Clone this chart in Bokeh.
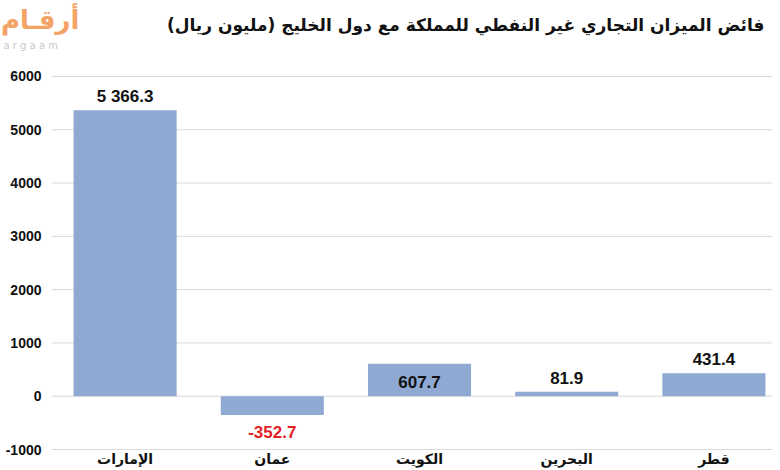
from bokeh.plotting import figure
from bokeh.models import ColumnDataSource, Range1d, Label
from bokeh.core.properties import value
from bokeh.embed import file_html
from bokeh.resources import INLINE

# ---- data ----
categories = ["الإمارات", "عمان", "الكويت", "البحرين", "قطر"]
surplus = [5366.3, -352.7, 607.7, 81.9, 431.4]
label_place = ["above", "below", "inside", "above", "above"]
y_ticks = [-1000, 0, 1000, 2000, 3000, 4000, 5000, 6000]
title_text = "فائض الميزان التجاري غير النفطي للمملكة مع دول الخليج (مليون ريال)"
logo_text = "أرقـام"
logo_sub = "a r g a a m"

# ---- layout helpers (pixels -> data) ----
ORG = 1                 # observed page position of the figure's corner
W, H = 772, 468
PX_X = 147.2            # pixels per category
PX_Y = 53.33 / 1000.0   # pixels per unit
x0 = -(52 - ORG) / PX_X
x1 = x0 + W / PX_X
y1 = 6000 + (77 - ORG) / PX_Y
y0 = -1000 - (ORG + H - 450) / PX_Y

def px_x(px):
    return x0 + (px - ORG) / PX_X

def px_y(py):
    return y1 - (py - ORG) / PX_Y

xs = [i + 0.5 for i in range(len(categories))]
labels = [f"{v:,.1f}".replace(",", " ") for v in surplus]
colors = ["#E31E24" if v < 0 else "#111111" for v in surplus]
offs = {"above": -14, "below": 17, "inside": 18}
yoff = [offs[p] for p in label_place]

src = ColumnDataSource(dict(x=xs, top=surplus, label=labels, color=colors, yoff=yoff))
cat_src = ColumnDataSource(dict(x=xs, y=[y_ticks[0]] * len(xs), name=categories))
tick_src = ColumnDataSource(dict(x0=[0] * len(y_ticks), x1=[x1] * len(y_ticks), y=y_ticks,
                                 label=[str(t) for t in y_ticks]))

p = figure(width=W, height=H, output_backend="svg", toolbar_location=None,
           x_range=Range1d(x0, x1), y_range=Range1d(y0, y1), min_border=0)
p.xaxis.visible = False
p.yaxis.visible = False
p.xgrid.visible = False
p.ygrid.visible = False
p.outline_line_color = None
p.background_fill_color = "white"

# grid lines
p.segment(x0="x0", y0="y", x1="x1", y1="y", source=tick_src, line_color="#D9D9D9", line_width=1)

# bars
p.vbar(x="x", top="top", bottom=0, width=0.7, source=src,
       fill_color="#8FA9D3", line_color=None)

# value labels
p.text(x="x", y="top", text="label", source=src, text_color="color",
       y_offset="yoff", text_align="center", text_baseline="middle",
       text_font=value("Liberation Sans"), text_font_size="17px", text_font_style="bold")

# y tick labels
p.text(x="x0", y="y", text="label", source=tick_src, x_offset=-10,
       text_align="right", text_baseline="middle", text_color="#111111",
       text_font=value("Liberation Sans"), text_font_size="14px", text_font_style="bold")

# category labels
p.text(x="x", y="y", text="name", source=cat_src, y_offset=9,
       text_align="center", text_baseline="middle", text_color="#111111",
       text_font=value("DejaVu Sans"), text_font_size="14px", text_font_style="bold")

# title
p.add_layout(Label(x=px_x(765), y=px_y(26), text=title_text, text_align="right",
                   text_baseline="middle", text_font="DejaVu Sans", text_font_size="17px",
                   text_font_style="bold", text_color="#111111"))

# logo
p.add_layout(Label(x=px_x(80), y=px_y(21), text=logo_text, text_align="right", text_baseline="middle",
                   text_font="DejaVu Sans", text_font_size="26px", text_font_style="bold",
                   text_color="#F4A366"))
p.add_layout(Label(x=px_x(4), y=px_y(46), text=logo_sub, text_align="left", text_baseline="middle",
                   text_font="DejaVu Sans", text_font_size="10px", text_color="#C8C8C8"))

open("out.html", "w").write(file_html(p, INLINE))
